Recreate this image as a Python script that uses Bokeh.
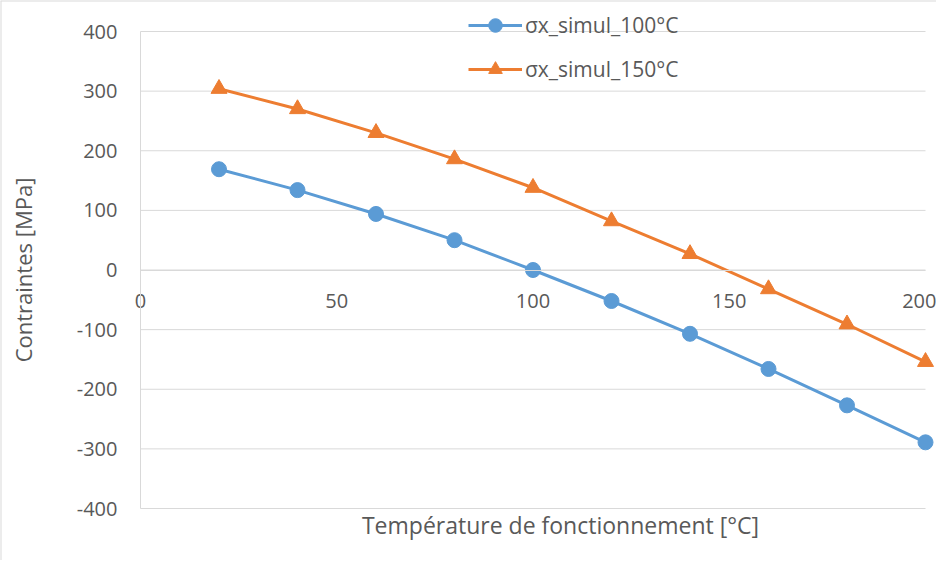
from bokeh.plotting import figure
from bokeh.models import Range1d, FixedTicker, Legend, LegendItem, LinearAxis, Label, Span
from bokeh.embed import file_html
from bokeh.resources import INLINE

temps = [20, 40, 60, 80, 100, 120, 140, 160, 180, 200]
sigma_100 = [169, 134, 94, 50, 0, -52, -107, -166, -227, -289]
sigma_150 = [304, 270, 230, 186, 138, 82, 27, -32, -91, -154]
x_ticks = [0, 50, 100, 150, 200]
y_ticks = [-400, -300, -200, -100, 0, 100, 200, 300, 400]
series_names = ["σx_simul_100°C", "σx_simul_150°C"]
x_title = "Température de fonctionnement [°C]"
y_title = "Contraintes [MPa]"

FONT = "Open Sans"
TXT = "#595959"
GRID = "#d9d9d9"
BLUE = "#5B9BD5"
ORANGE = "#ED7D31"

# layout (pixels inside the figure)
W, H = 936, 560
PX_X0, PX_X1 = 140, 925      # where x = 0 and x = 200 fall
PX_YTOP, PX_YBOT = 31, 508   # where y = 400 and y = -400 fall (from top)
sx = (PX_X1 - PX_X0) / (x_ticks[-1] - x_ticks[0])
sy = (PX_YBOT - PX_YTOP) / (y_ticks[-1] - y_ticks[0])
x_start = x_ticks[0] - PX_X0 / sx
x_end = x_start + W / sx
y_end = y_ticks[-1] + PX_YTOP / sy
y_start = y_end - H / sy

p = figure(width=W, height=H, output_backend="svg", toolbar_location=None,
           x_range=Range1d(x_start, x_end), y_range=Range1d(y_start, y_end),
           x_axis_location=None, y_axis_location=None, min_border=0)
p.outline_line_color = None
p.background_fill_color = "white"
p.border_fill_color = "white"
p.grid.grid_line_color = None

# chart-area border (left and top edges)
p.add_layout(Span(location=x_start, dimension="height", line_color=GRID, line_width=2))
p.add_layout(Span(location=y_end, dimension="width", line_color=GRID, line_width=2))

# horizontal gridlines across the plot area only
p.segment(x0=x_ticks[0], x1=x_ticks[-1], y0=y_ticks, y1=y_ticks,
          line_color=GRID, line_width=1)

# y axis at x = 0
yaxis = LinearAxis(fixed_location=0, bounds=(y_ticks[0], y_ticks[-1]),
                   ticker=FixedTicker(ticks=y_ticks),
                   major_label_overrides={t: str(t) for t in y_ticks},
                   axis_label=y_title, axis_label_text_font=FONT,
                   axis_label_text_font_size="22px", axis_label_text_font_style="normal",
                   axis_label_text_color=TXT, axis_label_standoff=36,
                   major_label_text_font=FONT, major_label_text_font_size="20px",
                   major_label_text_color=TXT, major_label_standoff=23,
                   major_tick_out=0, major_tick_in=0, minor_tick_out=0, minor_tick_in=0,
                   major_tick_line_color=None, minor_tick_line_color=None,
                   axis_line_color=GRID)
p.add_layout(yaxis, "left")

# x axis crossing at y = 0
xaxis = LinearAxis(fixed_location=0, bounds=(x_ticks[0], x_ticks[-1]),
                   ticker=FixedTicker(ticks=x_ticks),
                   major_label_text_font=FONT, major_label_text_font_size="20px",
                   major_label_text_color=TXT, major_label_standoff=24,
                   major_tick_out=0, major_tick_in=0, minor_tick_out=0, minor_tick_in=0,
                   major_tick_line_color=None, minor_tick_line_color=None,
                   axis_line_color=GRID)
p.add_layout(xaxis, "below")

p.add_layout(Label(x=560, y=H - 524, x_units="screen", y_units="screen", text=x_title,
                   text_align="center", text_baseline="middle", text_font=FONT,
                   text_font_size="23px", text_color=TXT))

l1 = p.line(temps, sigma_100, line_color=BLUE, line_width=3)
m1 = p.scatter(temps, sigma_100, marker="circle", size=15, fill_color=BLUE, line_color=BLUE)
l2 = p.line(temps, sigma_150, line_color=ORANGE, line_width=3)
m2 = p.scatter(temps, sigma_150, marker="triangle", size=16, fill_color=ORANGE, line_color=ORANGE)

legend = Legend(items=[LegendItem(label=series_names[0], renderers=[l1, m1]),
                       LegendItem(label=series_names[1], renderers=[l2, m2])],
                location=(468, H - 86), orientation="vertical",
                glyph_width=54, glyph_height=34, label_standoff=3, spacing=10,
                padding=0, margin=0, background_fill_alpha=0, border_line_color=None,
                label_text_font=FONT, label_text_font_size="21px", label_text_color=TXT)
p.add_layout(legend, "center")

open("out.html", "w").write(file_html(p, INLINE))
